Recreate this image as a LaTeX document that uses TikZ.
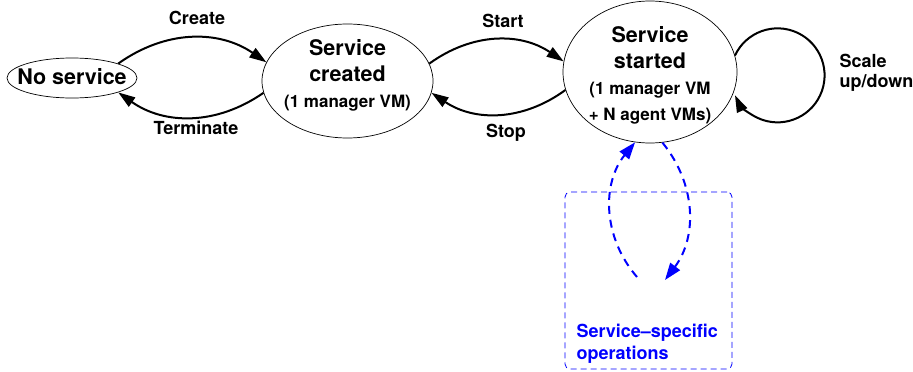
\documentclass[tikz,border=0pt]{standalone}
\usepackage{fontspec}
\setmainfont{TeX Gyre Heros}
\usetikzlibrary{shapes.geometric,arrows.meta}

\begin{document}
\begin{tikzpicture}[x=1pt,y=1pt,
  state/.style={draw, ellipse, line width=0.7pt, inner sep=0pt},
  statetext/.style={align=center, font=\fontsize{21.5}{26}\selectfont\bfseries},
  trans/.style={-{Triangle[length=17pt,width=11pt]}, line width=2pt},
  translabel/.style={font=\fontsize{18}{20}\selectfont\bfseries},
  opsarrow/.style={-{Triangle[length=17pt,width=12pt]}, line width=2pt, blue,
    dash pattern=on 8pt off 6pt},
  opsframe/.style={draw=blue, line width=0.8pt, rounded corners=5pt,
    dash pattern=on 6pt off 4pt, inner sep=0pt}]
\useasboundingbox (0,0) rectangle (913,-372);

\node[state, minimum width=130pt, minimum height=40pt] (noservice) at (72,-78) {};
\node[statetext] (noservicetext) at (72,-77) {No service};
\node[state, minimum width=171pt, minimum height=114pt] (created) at (347.5,-81) {};
\node[statetext] (createdtext) at (347.5,-75.5)
{Service\\created\\{\fontsize{17}{26}\selectfont (1 manager VM)}};
\node[state, minimum width=174pt, minimum height=142pt] (started) at (650,-72) {};
\node[statetext] (startedtext) at (650,-75.5)
{Service\\started\\{\fontsize{17}{26}\selectfont (1 manager VM}\\{\fontsize{17}{26}\selectfont + N agent VMs)}};

\node[translabel] (create) at (197,-18) {Create};
\node[translabel] (terminate) at (196,-128) {Terminate};
\node[translabel] (start) at (503,-21) {Start};
\node[translabel] (stop) at (506,-133) {Stop};
\node[translabel, align=left, anchor=west, font=\fontsize{18}{20}\selectfont\bfseries]
(scale) at (836,-73) {Scale\\up/down};

\draw[trans] (noservice.north east) to[bend left=35] (created.167);
\draw[trans] (created.188) to[bend left=35] (noservice.south east);
\draw[trans] (created.12) to[bend left=35] (started.173);
\draw[trans] (started.192) to[bend left=35] (created.-8);
\draw[trans] (started.11) arc[start angle=155, end angle=-155, radius=47pt];

\node[opsframe, minimum width=167pt, minimum height=177pt] (opsbox) at (648.5,-280.5) {};
\node[translabel, blue, align=left, anchor=west, font=\fontsize{18}{22}\selectfont\bfseries]
(opslabel) at (573,-344) {Service--specific\\operations};
\coordinate (opsfrom) at (637,-277);
\coordinate (opsto) at (665,-280);
\draw[opsarrow] (opsfrom) to[bend left=40] (started.258);
\draw[opsarrow] (started.280) to[bend left=38] (opsto);
\end{tikzpicture}
\end{document}
